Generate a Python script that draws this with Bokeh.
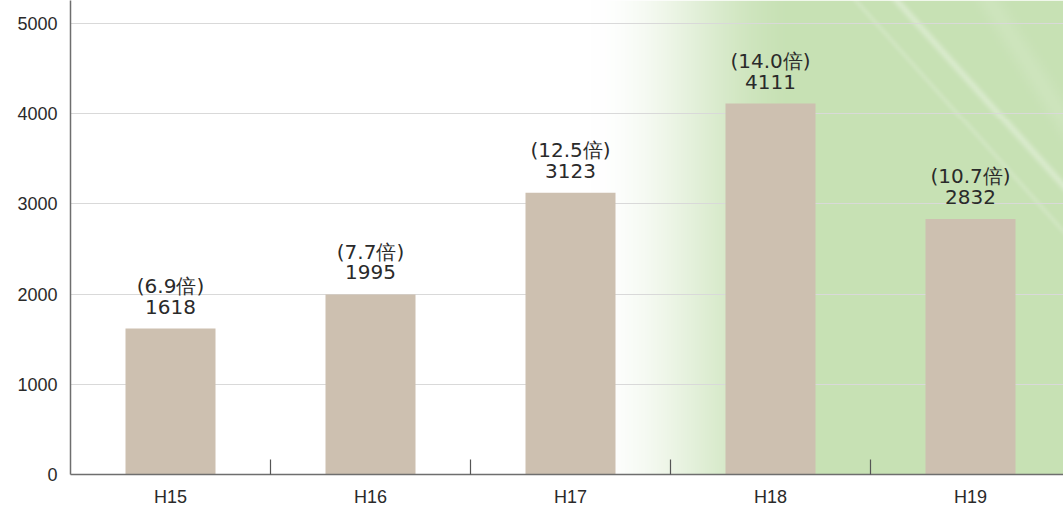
import numpy as np
from bokeh.plotting import figure
from bokeh.models import Range1d, FixedTicker, ColumnDataSource
from bokeh.core.properties import value
from bokeh.embed import file_html
from bokeh.resources import INLINE

# ---- data ----
categories = ["H15", "H16", "H17", "H18", "H19"]
counts = [1618, 1995, 3123, 4111, 2832]
ratios = ["6.9", "7.7", "12.5", "14.0", "10.7"]
y_ticks = [0, 1000, 2000, 3000, 4000, 5000]

idx = list(range(len(categories)))
labels = [f"({r}倍)\n{c}" for r, c in zip(ratios, counts)]
src = ColumnDataSource(dict(x=idx, top=counts, label=labels))

W, H = 1063, 509
FL, FB = 70, 476            # frame left / bottom in page pixels
FW = W - FL
FH = FB
X0 = -0.5
X1 = X0 + FW / 200.0
Y0 = 0
Y1 = FH / 453.0 * 5000

p = figure(width=W, height=H, output_backend="svg", toolbar_location=None,
           x_range=Range1d(X0, X1), y_range=Range1d(Y0, Y1),
           min_border_left=FL, min_border_right=0, min_border_top=0,
           min_border_bottom=H - FB, background_fill_color="white",
           border_fill_color="white", outline_line_color=None)

# ---- decorative background gradient (white -> pale green) ----
nx, ny = 497, 238
sx = np.linspace(FL, W, nx)
sy = np.linspace(FB, 0, ny)
SX, SY = np.meshgrid(sx, sy)
t = np.clip((SX - 592) / (800 - 592), 0, 1)
t = t * t * (3 - 2 * t)
white = np.array([255, 255, 255], float)
green = np.array([199, 225, 180], float)
img = white[None, None, :] * (1 - t[..., None]) + green[None, None, :] * t[..., None]
def streak(x0, y0, slope, width, strength):
    d = np.abs((SY - y0) - slope * (SX - x0)) / np.sqrt(1 + slope * slope)
    return strength * np.exp(-(d / width) ** 2)
s = streak(898, 0, 1.12, 4, 0.3) + streak(915, 65, 1.12, 3, 0.15) + streak(990, 0, 1.6, 12, 0.12)
s = np.clip(s, 0, 0.6)[..., None] * (t[..., None])
img = img * (1 - s) + 255 * s
rgba = np.zeros((ny, nx), dtype=np.uint32)
view = rgba.view(dtype=np.uint8).reshape((ny, nx, 4))
view[..., 0] = img[..., 0].astype(np.uint8)
view[..., 1] = img[..., 1].astype(np.uint8)
view[..., 2] = img[..., 2].astype(np.uint8)
view[..., 3] = 255
p.image_rgba(image=[rgba], x=X0, y=Y0, dw=X1 - X0, dh=Y1 - Y0, level="image")

# ---- bars ----
p.vbar(x="x", top="top", width=0.45, source=src, fill_color="#cdc0b0", line_color=None)

# ---- value labels ----
p.text(x="x", y="top", text="label", source=src, text_align="center",
       text_baseline="bottom", y_offset=-10, text_font_size="20px",
       text_font=value("DejaVu Sans"), text_color="#2a2a2a", text_line_height=0.86)

# ---- axes ----
p.xgrid.grid_line_color = None
p.ygrid.grid_line_color = "#d9d9d9"
p.ygrid.grid_line_width = 1
p.ygrid.ticker = FixedTicker(ticks=y_ticks[1:])

p.yaxis.ticker = FixedTicker(ticks=y_ticks)
p.yaxis.major_tick_line_color = None
p.yaxis.minor_tick_line_color = None
p.yaxis.major_tick_out = 0
p.yaxis.major_tick_in = 0
p.yaxis.axis_line_color = "#6e6e6e"
p.yaxis.axis_line_width = 1.5
p.yaxis.major_label_standoff = 13
p.yaxis.major_label_text_font = "Liberation Sans"
p.yaxis.major_label_text_font_size = "18px"
p.yaxis.major_label_text_color = "#2a2a2a"

p.xaxis.ticker = FixedTicker(ticks=idx, minor_ticks=[i + 0.5 for i in idx[:-1]])
p.xaxis.major_label_overrides = {i: c for i, c in zip(idx, categories)}
p.xaxis.major_tick_line_color = None
p.xaxis.major_tick_out = 0
p.xaxis.major_tick_in = 0
p.xaxis.minor_tick_line_color = "#555555"
p.xaxis.minor_tick_in = 15
p.xaxis.minor_tick_out = 0
p.xaxis.minor_tick_line_width = 1.2
p.xaxis.axis_line_color = "#6e6e6e"
p.xaxis.axis_line_width = 1.5
p.xaxis.major_label_standoff = 12
p.xaxis.major_label_text_font = "Liberation Sans"
p.xaxis.major_label_text_font_size = "18px"
p.xaxis.major_label_text_color = "#2a2a2a"

open("out.html", "w").write(file_html(p, INLINE))
